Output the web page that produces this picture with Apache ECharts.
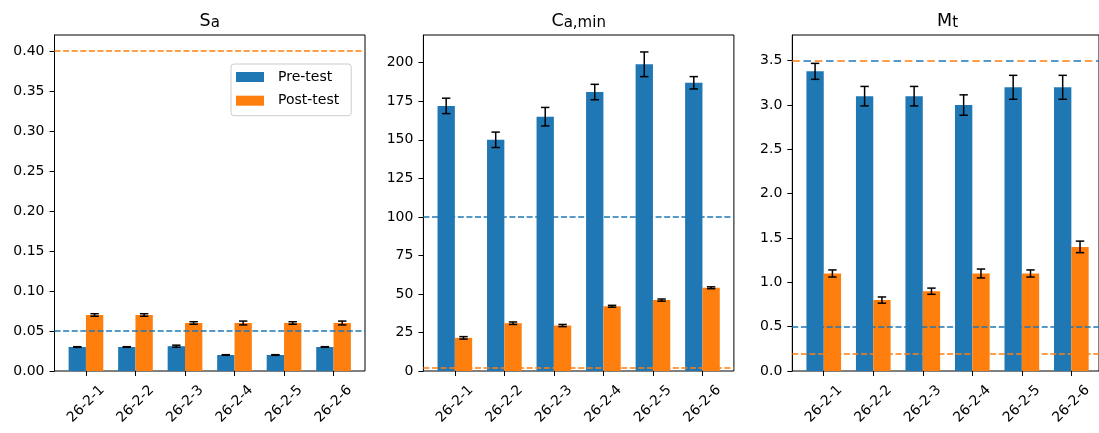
<!DOCTYPE html>
<html><head><meta charset="utf-8">
<script src="https://cdn.jsdelivr.net/npm/echarts@6/dist/echarts.min.js"></script>
<style>html,body{margin:0;padding:0;background:#fff}#c{width:1099px;height:433px}</style>
</head><body><div id="c"></div>
<script>
// ---- data ----
const categories = ['26-2-1', '26-2-2', '26-2-3', '26-2-4', '26-2-5', '26-2-6'];
const seriesNames = ['Pre-test', 'Post-test'];

const saPre = [0.030, 0.030, 0.031, 0.020, 0.020, 0.030];
const saPreErr = [0.0004, 0.0004, 0.0013, 0.0004, 0.0004, 0.0004];
const saPost = [0.070, 0.070, 0.060, 0.060, 0.060, 0.060];
const saPostErr = [0.0016, 0.0016, 0.0016, 0.0024, 0.0016, 0.0024];
const saTicks = [0, 0.05, 0.10, 0.15, 0.20, 0.25, 0.30, 0.35, 0.40];
const saMax = 0.42;
const saPreLimits = [0.05];
const saPostLimits = [0.40];

const caPre = [172, 150, 165, 181, 199, 187];
const caPreErr = [5, 5, 6, 5, 8, 4];
const caPost = [21.5, 31, 29.5, 42, 46, 54];
const caPostErr = [0.8, 0.8, 0.7, 0.6, 0.7, 0.6];
const caTicks = [0, 25, 50, 75, 100, 125, 150, 175, 200];
const caMax = 218;
const caPreLimits = [100];
const caPostLimits = [2];

const mtPre = [3.38, 3.10, 3.10, 3.00, 3.20, 3.20];
const mtPreErr = [0.09, 0.11, 0.11, 0.115, 0.135, 0.135];
const mtPost = [1.10, 0.80, 0.90, 1.10, 1.10, 1.40];
const mtPostErr = [0.04, 0.035, 0.035, 0.05, 0.04, 0.065];
const mtTicks = [0, 0.5, 1.0, 1.5, 2.0, 2.5, 3.0, 3.5];
const mtMax = 3.79;
const mtPreLimits = [0.5, 3.5];
const mtPostLimits = [0.2, 3.5];

// ---- styling / layout ----
const FONT = 'DejaVu Sans';
const BLUE = '#1f77b4', ORANGE = '#ff7f0e';
const W = 310.5, TOP = 35, H = 336;
const UNIT = W / 6.27;
const OFF = 0.135 * UNIT;

const panels = [
  { t: '{m|S}{s|a}', pre: saPre, preErr: saPreErr, post: saPost, postErr: saPostErr, ticks: saTicks, max: saMax, dec: 2, preL: saPreLimits, postL: saPostLimits, left: 54.5 },
  { t: '{m|C}{s|a,min}', pre: caPre, preErr: caPreErr, post: caPost, postErr: caPostErr, ticks: caTicks, max: caMax, dec: 0, preL: caPreLimits, postL: caPostLimits, left: 423.4 },
  { t: '{m|M}{s|t}', pre: mtPre, preErr: mtPreErr, post: mtPost, postErr: mtPostErr, ticks: mtTicks, max: mtMax, dec: 1, preL: mtPreLimits, postL: mtPostLimits, left: 792.3 }
];

const grid = [], xAxis = [], yAxis = [], series = [], title = [];
const labelStyle = { color: '#000', fontSize: 14, fontFamily: FONT };

function errRenderer(shift) {
  return function (params, api) {
    const i = api.value(0), v = api.value(1), e = api.value(2);
    const band = api.size([1, 0])[0];
    const a = api.coord([i, v + e]);
    const b = api.coord([i, v - e]);
    const x = a[0] + shift * band;
    const st = { stroke: '#000', lineWidth: 1.5 };
    return {
      type: 'group', children: [
        { type: 'line', shape: { x1: x, y1: a[1], x2: x, y2: b[1] }, style: st },
        { type: 'line', shape: { x1: x - 4.2, y1: a[1], x2: x + 4.2, y2: a[1] }, style: st },
        { type: 'line', shape: { x1: x - 4.2, y1: b[1], x2: x + 4.2, y2: b[1] }, style: st }
      ]
    };
  };
}

panels.forEach((p, k) => {
  const go = 2 * k, gi = 2 * k + 1;
  grid.push({ left: p.left, top: TOP, width: W, height: H, show: true, borderColor: '#000', borderWidth: 1, backgroundColor: 'rgba(0,0,0,0)' });
  grid.push({ left: p.left + OFF, top: TOP, width: 6 * UNIT, height: H });
  xAxis.push({ gridIndex: go, type: 'value', min: 0, max: 1, show: false });
  xAxis.push({
    gridIndex: gi, type: 'category', data: categories,
    axisLine: { show: false },
    axisTick: { show: true, alignWithLabel: true, length: 5, lineStyle: { color: '#000', width: 1 } },
    axisLabel: Object.assign({ rotate: 45, interval: 0, align: 'center', verticalAlign: 'middle', margin: 33 }, labelStyle)
  });
  yAxis.push({
    gridIndex: go, type: 'value', min: 0, max: p.max,
    axisLine: { show: true, lineStyle: { color: '#000', width: 1 } },
    axisTick: { show: true, length: 5, customValues: p.ticks, lineStyle: { color: '#000', width: 1 } },
    axisLabel: Object.assign({ customValues: p.ticks, margin: 10, formatter: v => Number(v).toFixed(p.dec) }, labelStyle),
    splitLine: { show: false }
  });
  yAxis.push({ gridIndex: gi, type: 'value', min: 0, max: p.max, show: false, splitLine: { show: false } });

  series.push({ type: 'bar', name: seriesNames[0], xAxisIndex: gi, yAxisIndex: gi, data: p.pre, barWidth: '35%', barGap: '0%', itemStyle: { color: BLUE }, z: 2, animation: false });
  series.push({ type: 'bar', name: seriesNames[1], xAxisIndex: gi, yAxisIndex: gi, data: p.post, barWidth: '35%', barGap: '0%', itemStyle: { color: ORANGE }, z: 2, animation: false });
  series.push({ type: 'custom', xAxisIndex: gi, yAxisIndex: gi, renderItem: errRenderer(-0.175), data: p.pre.map((v, i) => [i, v, p.preErr[i]]), encode: { x: 0, y: 1 }, z: 3, animation: false, silent: true });
  series.push({ type: 'custom', xAxisIndex: gi, yAxisIndex: gi, renderItem: errRenderer(0.175), data: p.post.map((v, i) => [i, v, p.postErr[i]]), encode: { x: 0, y: 1 }, z: 3, animation: false, silent: true });

  const ml = [];
  p.preL.forEach(v => {
    const shared = p.postL.indexOf(v) >= 0;
    ml.push({ yAxis: v, lineStyle: { color: BLUE, width: 1.5, type: shared ? [7.5, 15] : [6, 2.6], dashOffset: shared ? 11.25 : 0 } });
  });
  p.postL.forEach(v => {
    const shared = p.preL.indexOf(v) >= 0;
    ml.push({ yAxis: v, lineStyle: { color: ORANGE, width: 1.5, type: shared ? [7.5, 15] : [6, 2.6], dashOffset: 0 } });
  });
  series.push({
    type: 'line', xAxisIndex: go, yAxisIndex: go, data: [], z: 5, silent: true, animation: false,
    markLine: { symbol: 'none', silent: true, animation: false, label: { show: false }, data: ml }
  });

  title.push({
    text: p.t, left: p.left + W / 2, top: 8.5, textAlign: 'center', padding: 0,
    textStyle: {
      fontWeight: 'normal',
      rich: {
        m: { fontSize: 17.5, fontFamily: FONT, fontWeight: 'normal', color: '#000', verticalAlign: 'bottom', lineHeight: 22 },
        s: { fontSize: 15, fontFamily: FONT, fontWeight: 'normal', color: '#000', verticalAlign: 'bottom', lineHeight: 10 }
      }
    }
  });
});

const chart = echarts.init(document.getElementById('c'), null, { renderer: 'canvas' });
chart.setOption({
  animation: false,
  backgroundColor: '#fff',
  title: title,
  legend: {
    data: seriesNames, orient: 'vertical', left: 231, top: 64,
    itemWidth: 28, itemHeight: 10, itemGap: 9.7, icon: 'rect',
    backgroundColor: 'rgba(255,255,255,0.8)', borderColor: '#ccc', borderWidth: 1, borderRadius: 3,
    padding: [6, 12, 8, 5],
    textStyle: { fontSize: 14, fontFamily: FONT, color: '#000', padding: [0, 0, 0, 9] }
  },
  grid: grid, xAxis: xAxis, yAxis: yAxis, series: series
});
</script></body></html>
